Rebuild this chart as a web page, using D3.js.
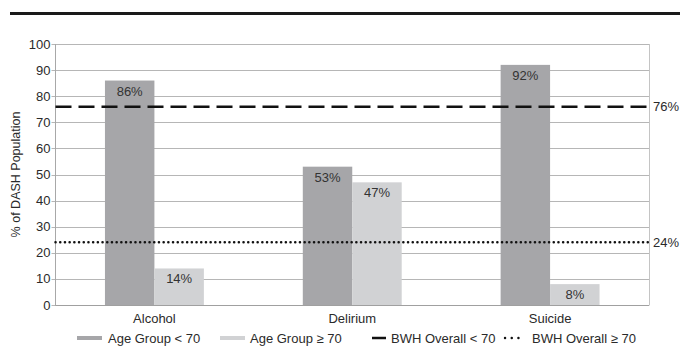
<!DOCTYPE html>
<html>
<head>
<meta charset="utf-8">
<script src="https://cdn.jsdelivr.net/npm/d3@7"></script>
<style>
  html, body { margin: 0; padding: 0; background: #fff; }
  svg { display: block; font-family: "Liberation Sans", Arial, sans-serif; }
</style>
</head>
<body>
<svg id="chart" width="680" height="360"></svg>
<script>
// Categories and series
const categories = ["Alcohol", "Delirium", "Suicide"];
const seriesNames = ["Age Group < 70", "Age Group \u2265 70"];
const under70 = [86, 53, 92];
const over70 = [14, 47, 8];
// Hospital-wide reference levels
const refNames = ["BWH Overall < 70", "BWH Overall \u2265 70"];
const refValues = [76, 24];
const yTicks = [0, 10, 20, 30, 40, 50, 60, 70, 80, 90, 100];

const svg = d3.select("#chart");
const margin = { left: 55.5, right: 31, top: 44, bottom: 55 };
const W = 680, H = 360;
const x0 = margin.left, x1 = W - margin.right;
const yTop = margin.top, yBot = H - margin.bottom;

const colors = ["#a6a6a9", "#d1d2d4"];
const textColor = "#2a2a2a";

const x = d3.scaleBand().domain(categories).range([x0, x1]).paddingInner(0).paddingOuter(0);
const xs = d3.scaleBand().domain([0, 1]).range([0, x.bandwidth() * 0.5]);
const y = d3.scaleLinear().domain([0, 100]).range([yBot, yTop]);

// Heading rule
svg.append("line")
  .attr("x1", 10).attr("x2", W).attr("y1", 13.5).attr("y2", 13.5)
  .attr("stroke", "#1a1a1a").attr("stroke-width", 3);

// Gridlines
svg.append("g")
  .selectAll("line").data(yTicks).join("line")
  .attr("x1", x0 - 4).attr("x2", x1)
  .attr("y1", d => Math.round(y(d)) + 0.5).attr("y2", d => Math.round(y(d)) + 0.5)
  .attr("stroke", "#b6b6b6").attr("stroke-width", 1);

// Plot frame (left and right)
svg.append("line").attr("x1", x0).attr("x2", x0).attr("y1", y(100)).attr("y2", y(0) + 0.5)
  .attr("stroke", "#a8a8a8");
svg.append("line").attr("x1", x1 + 0.5).attr("x2", x1 + 0.5).attr("y1", y(100)).attr("y2", y(0) + 0.5)
  .attr("stroke", "#c4c4c4");

// Y axis labels
svg.append("g")
  .selectAll("text").data(yTicks).join("text")
  .attr("x", x0 - 5).attr("y", d => y(d)).attr("dy", "0.35em")
  .attr("text-anchor", "end").attr("font-size", 13).attr("fill", textColor)
  .text(d => d);

svg.append("text")
  .attr("transform", `translate(20,${(yTop + yBot) / 2}) rotate(-90)`)
  .attr("text-anchor", "middle").attr("font-size", 12.5).attr("fill", textColor)
  .text("% of DASH Population");

// Bars
const rows = categories.map((c, i) => ({ cat: c, vals: [under70[i], over70[i]] }));
const groups = svg.append("g").selectAll("g").data(rows).join("g")
  .attr("transform", d => `translate(${x(d.cat) + x.bandwidth() * 0.25},0)`);

groups.selectAll("rect").data(d => d.vals.map((v, k) => ({ v, k }))).join("rect")
  .attr("x", d => xs(d.k)).attr("width", xs.bandwidth())
  .attr("y", d => y(d.v)).attr("height", d => y(0) - y(d.v))
  .attr("fill", d => colors[d.k]);

groups.selectAll("text").data(d => d.vals.map((v, k) => ({ v, k }))).join("text")
  .attr("x", d => xs(d.k) + xs.bandwidth() / 2).attr("y", d => y(d.v) + 15)
  .attr("text-anchor", "middle").attr("font-size", 13).attr("fill", "#333")
  .text(d => d.v + "%");

// Bottom axis line
svg.append("line").attr("x1", x0).attr("x2", x1).attr("y1", Math.round(y(0)) + 0.5).attr("y2", Math.round(y(0)) + 0.5)
  .attr("stroke", "#a0a0a0");

// Category labels
svg.append("g").selectAll("text").data(categories).join("text")
  .attr("x", d => x(d) + x.bandwidth() / 2).attr("y", yBot + 18)
  .attr("text-anchor", "middle").attr("font-size", 13).attr("fill", textColor)
  .text(d => d);

// Reference lines
const refDash = ["16,7", "0.1,4.6"];
refValues.forEach((v, i) => {
  svg.append("line")
    .attr("x1", x0).attr("x2", x1).attr("y1", y(v)).attr("y2", y(v))
    .attr("stroke", "#111").attr("stroke-width", 2.5)
    .attr("stroke-linecap", i === 1 ? "round" : "butt")
    .attr("stroke-dasharray", refDash[i]);
  svg.append("text")
    .attr("x", x1 + 4).attr("y", y(v)).attr("dy", "0.35em")
    .attr("font-size", 13).attr("fill", textColor)
    .text(v + "%");
});

// Legend
const legY = 338;
const leg = svg.append("g");
const legItems = [
  { type: "bar", color: colors[0], label: seriesNames[0], sx: 77, sw: 25, tx: 108 },
  { type: "bar", color: colors[1], label: seriesNames[1], sx: 220, sw: 25, tx: 250 },
  { type: "dash", label: refNames[0], sx: 372, sw: 14, tx: 391 },
  { type: "dot", label: refNames[1], sx: 505, sw: 20, tx: 532 }
];
legItems.forEach(it => {
  if (it.type === "bar") {
    leg.append("rect").attr("x", it.sx).attr("y", legY - 2).attr("width", it.sw).attr("height", 4)
      .attr("fill", it.color);
  } else if (it.type === "dash") {
    leg.append("line").attr("x1", it.sx).attr("x2", it.sx + it.sw).attr("y1", legY).attr("y2", legY)
      .attr("stroke", "#111").attr("stroke-width", 2.5);
  } else {
    leg.append("line").attr("x1", it.sx).attr("x2", it.sx + it.sw).attr("y1", legY).attr("y2", legY)
      .attr("stroke", "#111").attr("stroke-width", 2.4).attr("stroke-linecap", "round")
      .attr("stroke-dasharray", "0.1,6.6");
  }
  leg.append("text").attr("x", it.tx).attr("y", legY).attr("dy", "0.35em")
    .attr("font-size", 13).attr("fill", textColor).text(it.label);
});
</script>
</body>
</html>
